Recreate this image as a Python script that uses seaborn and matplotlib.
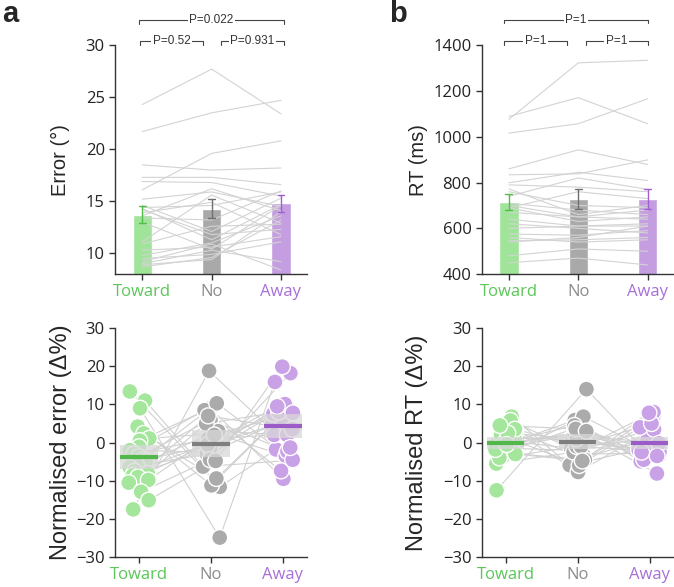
import numpy as np
import pandas as pd
import matplotlib
matplotlib.use('Agg')
import matplotlib.pyplot as plt
import seaborn as sns

conds = ['Toward', 'No', 'Away']

# raw error per participant (deg)
err_toward = [24.3, 21.7, 16.1, 18.5, 17.3, 16.9, 15.2, 14.4, 14.2, 13.6, 14.6, 14.3,
              13.9, 13.4, 13.0, 11.1, 10.9, 10.3, 9.8, 9.5, 9.2, 9.0, 8.9, 8.7]
err_no = [27.7, 23.5, 19.6, 18.0, 17.3, 16.8, 15.9, 14.6, 11.8, 16.2, 12.1, 11.3,
          14.9, 13.2, 10.4, 15.6, 12.6, 10.6, 11.0, 9.9, 10.9, 10.3, 9.4, 9.6]
err_away = [23.4, 24.7, 20.8, 18.2, 16.6, 15.5, 14.5, 15.9, 12.3, 14.1, 15.3, 14.7,
            11.8, 16.0, 14.6, 12.9, 12.8, 11.6, 13.6, 11.1, 8.4, 9.2, 14.0, 13.2]

# raw RT per participant (ms)
rt_toward = [1076, 1089, 1016, 860, 834, 799, 790, 772, 760, 740, 710, 690,
             700, 690, 670, 640, 620, 600, 575, 545, 540, 560, 480, 450]
rt_no = [1323, 1171, 1057, 943, 838, 845, 780, 660, 700, 820, 680, 760,
         650, 630, 650, 610, 600, 610, 570, 550, 560, 540, 510, 470]
rt_away = [1334, 1057, 1166, 879, 899, 809, 760, 700, 690, 770, 660, 730,
           640, 650, 680, 620, 580, 610, 590, 560, 610, 550, 500, 440]

# normalised error (delta %)
nerr_toward = [13.4, 11.0, 4.2, 2.4, 1.1, 0.5, -1.1, -2.0, -3.0, -3.7, -4.5, -5.0,
               -5.8, -6.5, -7.5, -8.1, -8.6, -9.0, -9.8, -10.5, -12.9, -15.1, -17.5, 9.0]
nerr_no = [-11.6, -6.3, -11.2, -9.4, 2.4, 9.0, 8.5, -2.5, 1.0, 6.0, -1.0, 3.0,
           10.3, -3.0, 0.0, 5.0, -1.5, -0.5, 2.0, 7.0, -4.5, -4.8, 18.8, -24.9]
nerr_away = [-1.8, -4.7, 7.0, 7.0, -3.5, -9.5, -7.4, 4.5, 2.0, -2.3, 5.5, 2.0,
             -4.5, 9.5, 7.5, 8.0, 10.1, 9.5, 7.8, 3.5, 18.2, 19.9, -1.3, 15.9]

# normalised RT (delta %)
nrt_toward = [-12.5, 6.8, 4.9, 5.8, 3.0, 1.5, 0.5, -0.5, -1.0, -1.5, -2.0, -2.8,
              -3.5, -5.5, 2.0, 1.0, -4.0, 0.0, 3.5, -1.8, 2.5, -3.0, 4.5, -0.5]
nrt_no = [14.0, -5.9, -7.7, -3.0, -4.0, 0.5, -1.5, 2.5, 5.9, -2.0, 3.7, -4.5,
          6.8, -2.5, -6.0, 1.5, -1.0, 4.5, -1.0, 2.0, 1.0, -4.8, 3.6, 3.0]
nrt_away = [-1.5, -0.9, 2.8, -2.8, 1.0, -2.0, 1.0, -2.0, -4.9, 3.5, -1.7, 7.2,
            -3.3, 8.0, 4.0, -2.5, 5.0, -4.5, -2.5, -0.2, -3.5, 7.8, -8.1, -2.5]

bar_colors = ['#a0e49a', '#a9a9a9', '#c59ee1']
label_colors = ['#5cc659', '#8c8c8c', '#a76fd8']
errbar_colors = ['#4fbf4a', '#707070', '#a160d2']
dot_colors = ['#a5e69d', '#ababab', '#c9a1e6']
mean_colors = ['#52b84c', '#7f7f7f', '#9c5cc8']

sns.set_style('ticks')
plt.rcParams['font.family'] = ['Open Sans', 'DejaVu Sans']
plt.rcParams['axes.edgecolor'] = '#333333'
plt.rcParams['axes.linewidth'] = 1.0
plt.rcParams['xtick.color'] = '#333333'
plt.rcParams['ytick.color'] = '#333333'


def long_df(a, b, c, name):
    n = len(a)
    return pd.DataFrame({'subject': np.tile(np.arange(n), 3),
                         'cond': np.repeat(conds, n),
                         name: np.concatenate([a, b, c])})


def style_axis(ax, ylabel, labelsize, label_x):
    sns.despine(ax=ax)
    ax.set_xlabel('')
    ax.set_ylabel(ylabel, fontsize=labelsize, family='Liberation Sans')
    ax.yaxis.set_label_coords(label_x, 0.5)
    ax.tick_params(axis='y', labelsize=12, length=4, width=1, labelcolor='#222222')
    ax.tick_params(axis='x', labelsize=12, length=4, width=1, pad=3)
    ax.set_xticks(range(3))
    ax.set_xticklabels(conds)
    for t, c in zip(ax.get_xticklabels(), label_colors):
        t.set_color(c)


def top_panel(ax, df, col, ylim, yticks, ylabel, label_x):
    df = df.copy()
    df['xpos'] = df['cond'].map({c: i for i, c in enumerate(conds)})
    sns.barplot(data=df, x='cond', y=col, hue='cond', order=conds, hue_order=conds,
                palette=bar_colors, saturation=1, errorbar='se', capsize=0.1,
                width=0.28, err_kws={'linewidth': 1.0}, legend=False, ax=ax)
    for p in ax.patches:
        p.set_zorder(1)
    for ln in ax.lines:
        i = int(round(np.nanmean(np.asarray(ln.get_xdata(), dtype=float))))
        ln.set_color(errbar_colors[i])
        ln.set_zorder(4)
    sns.lineplot(data=df, x='xpos', y=col, units='subject', estimator=None,
                 color='#d3d3d3', lw=0.8, ax=ax, zorder=2)
    ax.set_ylim(*ylim)
    ax.set_yticks(yticks)
    ax.set_xlim(-0.39, 2.38)
    style_axis(ax, ylabel, 14.5, label_x)


def bottom_panel(ax, df, col, ylabel, label_x):
    n = df['subject'].nunique()
    np.random.seed(7)
    sns.stripplot(data=df, x='cond', y=col, hue='cond', order=conds, hue_order=conds,
                  palette=dot_colors, jitter=0.15, size=11.5, linewidth=1,
                  edgecolor='white', legend=False, ax=ax, zorder=3)
    pts = [c.get_offsets() for c in ax.collections if len(c.get_offsets()) == n]
    for i in range(n):
        ax.plot([p[i, 0] for p in pts], [p[i, 1] for p in pts],
                color='#d0d0d0', lw=0.8, zorder=2)
    stats = df.groupby('cond')[col].agg(['mean', 'sem']).reindex(conds)
    ci = 1.96 * stats['sem'].values
    mean = stats['mean'].values
    xs = np.arange(3)
    ax.bar(xs, 2 * ci, bottom=mean - ci, width=0.52, color='#d8d8d8', alpha=0.75,
           zorder=4, linewidth=0)
    ax.hlines(mean, xs - 0.26, xs + 0.26, colors=mean_colors, lw=3, zorder=5)
    ax.set_ylim(-30, 30)
    ax.set_yticks(range(-30, 31, 10))
    ax.set_xlim(-0.33, 2.34)
    style_axis(ax, ylabel, 17, label_x)


def bracket(ax, x0, x1, y, tick, text):
    ax.plot([x0, x0, x1, x1], [y - tick, y, y, y - tick], color='#444444', lw=0.8,
            clip_on=False, zorder=5)
    ax.text((x0 + x1) / 2, y, text, ha='center', va='center', fontsize=8.5,
            family='Liberation Sans', color='#333333', zorder=6,
            bbox=dict(facecolor='white', edgecolor='none', pad=1.2), clip_on=False)


err_df = long_df(err_toward, err_no, err_away, 'err')
rt_df = long_df(rt_toward, rt_no, rt_away, 'rt')
nerr_df = long_df(nerr_toward, nerr_no, nerr_away, 'nerr')
nrt_df = long_df(nrt_toward, nrt_no, nrt_away, 'nrt')

fig = plt.figure(figsize=(6.74, 5.87), dpi=100)
ax_ta = fig.add_axes([0.171, 0.533, 0.285, 0.390])
ax_tb = fig.add_axes([0.715, 0.533, 0.285, 0.390])
ax_ba = fig.add_axes([0.171, 0.051, 0.285, 0.390])
ax_bb = fig.add_axes([0.715, 0.051, 0.285, 0.390])

top_panel(ax_ta, err_df, 'err', (8, 30), [10, 15, 20, 25, 30], 'Error (°)', -0.235)
top_panel(ax_tb, rt_df, 'rt', (400, 1400), range(400, 1401, 200), 'RT (ms)', -0.28)
bottom_panel(ax_ba, nerr_df, 'nerr', 'Normalised error (Δ%)', -0.225)
bottom_panel(ax_bb, nrt_df, 'nrt', 'Normalised RT (Δ%)', -0.28)

# significance brackets
bracket(ax_ta, -0.05, 2.04, 32.4, 0.35, 'P=0.022')
bracket(ax_ta, -0.03, 0.87, 30.4, 0.35, 'P=0.52')
bracket(ax_ta, 1.14, 2.04, 30.4, 0.35, 'P=0.931')
bracket(ax_tb, -0.07, 2.0, 1510, 15, 'P=1')
bracket(ax_tb, -0.07, 0.84, 1417, 15, 'P=1')
bracket(ax_tb, 1.11, 2.0, 1417, 15, 'P=1')

fig.text(0.003, 0.962, 'a', fontsize=21, fontweight='bold', family='Liberation Sans')
fig.text(0.578, 0.962, 'b', fontsize=21, fontweight='bold', family='Liberation Sans')

fig.savefig('out.png', dpi=100)
